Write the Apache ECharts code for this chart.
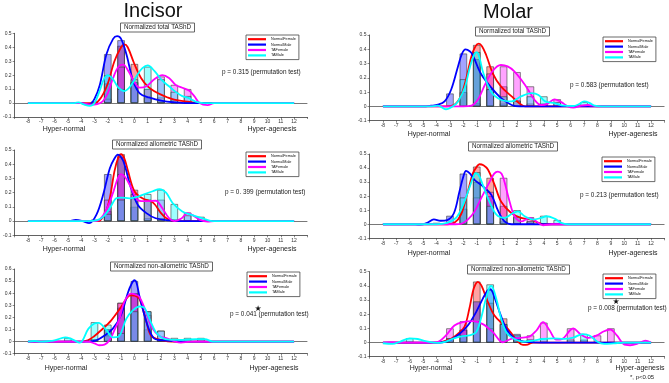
<!DOCTYPE html>
<html><head><meta charset="utf-8">
<script src="https://cdn.jsdelivr.net/npm/echarts@6/dist/echarts.min.js"></script>
<style>html,body{margin:0;padding:0;background:#fff}#c{width:669px;height:383px}</style>
</head><body><div id="c"></div>
<script>
// ---------- data ----------
const groups = ['NormalFemale', 'NormalMale', 'TAFemale', 'TAMale'];
const xTickValues = [-8,-7,-6,-5,-4,-3,-2,-1,0,1,2,3,4,5,6,7,8,9,10,11,12];
const columnTitles = ['Incisor', 'Molar'];
const panelTitles = ['Normalized total TAShD', 'Normalized total TAShD',
  'Normalized allometric TAShD', 'Normalized allometric TAShD',
  'Normalized non-allometric TAShD', 'Normalized non-allometric TAShD'];
const pTexts = ['p = 0.315 (permutation test)', 'p = 0.583 (permutation test)',
  'p = 0. 399 (permutation test)', 'p = 0.213 (permutation test)',
  'p = 0.041 (permutation test)', 'p = 0.008 (permutation test)'];
const yMaxes = [0.5, 0.5, 0.5, 0.5, 0.6, 0.5];

// Panel 1: Incisor, total
const p1BarsNF = [[-2,0.14],[-1,0.41],[0,0.28],[1,0.1],[2,0.04],[3,0.02],[4,0.01]];
const p1BarsNM = [[-3,0.01],[-2,0.35],[-1,0.45],[0,0.15],[1,0.04],[2,0.02],[3,0.01]];
const p1BarsTF = [[-2,0.03],[-1,0.26],[0,0.15],[1,0.1],[2,0.19],[3,0.13],[4,0.1]];
const p1BarsTM = [[-2,0.2],[-1,0.1],[0,0.17],[1,0.26],[2,0.17],[3,0.08],[4,0.05]];
const p1CurveNF = [[-8,0],[-3.5,0],[-3,0],[-2.5,0.04],[-2,0.14],[-1.5,0.3],[-1,0.4],[-0.75,0.42],[-0.5,0.4],[0,0.28],[0.5,0.18],[1,0.12],[1.5,0.085],[2,0.06],[2.5,0.04],[3,0.025],[4,0.01],[5,0],[12,0]];
const p1CurveNM = [[-8,0],[-4,0],[-3.4,-0.01],[-3,0.03],[-2.6,0.13],[-2.1,0.35],[-1.6,0.46],[-1.3,0.48],[-1,0.46],[-0.6,0.35],[-0.1,0.16],[0.4,0.07],[1.1,0.04],[2.1,0.015],[3,0.005],[4,0],[12,0]];
const p1CurveTF = [[-8,0],[-4,0],[-3.3,-0.012],[-2.8,-0.008],[-2.4,0.01],[-2,0.07],[-1.6,0.18],[-1.2,0.26],[-0.85,0.275],[-0.4,0.22],[0,0.15],[0.4,0.11],[0.9,0.12],[1.5,0.17],[2.1,0.2],[2.6,0.18],[3.1,0.13],[3.6,0.11],[4.1,0.09],[4.5,0.05],[4.9,0],[5.5,-0.015],[6,0],[12,0]];
const p1CurveTM = [[-8,0],[-4.5,0],[-4.2,0.005],[-3.8,-0.01],[-3.35,-0.02],[-3,0],[-2.6,0.09],[-2.3,0.17],[-2,0.2],[-1.6,0.17],[-1.2,0.11],[-0.75,0.086],[-0.3,0.12],[0.2,0.2],[0.6,0.25],[1,0.27],[1.5,0.23],[2.1,0.16],[2.6,0.12],[3.1,0.08],[3.6,0.05],[4.1,0.035],[4.6,0.01],[5.2,0],[12,0]];

// Panel 2: Molar, total
const p2BarsNF = [[-2,0.1],[-1,0.43],[0,0.28],[1,0.14],[2,0.04],[3,0.02]];
const p2BarsNM = [[-3,0.09],[-2,0.37],[-1,0.33],[0,0.12],[1,0.02]];
const p2BarsTF = [[-1,0.02],[0,0.23],[1,0.28],[2,0.24],[3,0.14],[4,0.02],[5,0.05],[7,0.01]];
const p2BarsTM = [[-2,0.19],[-1,0.38],[0,0.12],[1,0.07],[2,0.04],[3,0.07],[4,0.07],[5,0.03],[7,0.03]];
const p2CurveNF = [[-8,0],[-3.5,0],[-2.7,0.01],[-2.2,0.07],[-1.8,0.19],[-1.4,0.35],[-1.1,0.42],[-0.85,0.44],[-0.6,0.42],[-0.3,0.36],[0.2,0.23],[0.8,0.14],[1.6,0.07],[2.2,0.02],[2.6,0],[12,0]];
const p2CurveNM = [[-8,0],[-5,0],[-4.4,0.005],[-3.9,0.012],[-3.4,0.035],[-2.9,0.12],[-2.4,0.28],[-2.1,0.37],[-1.84,0.4],[-1.5,0.385],[-1.3,0.36],[-0.7,0.23],[0.1,0.13],[0.8,0.06],[1.6,0.01],[2.2,0],[12,0]];
const p2CurveTF = [[-8,0],[-2,0],[-1.4,0.005],[-0.9,0.05],[-0.4,0.15],[0.2,0.25],[0.8,0.29],[1.3,0.28],[1.8,0.245],[2.6,0.15],[3.3,0.047],[3.8,0.01],[4.3,0.02],[4.8,0.05],[5.3,0.03],[5.8,0],[6.2,-0.008],[6.8,0.005],[7.3,0.01],[8,0],[12,0]];
const p2CurveTM = [[-8,0],[-4.5,0],[-3.9,0.005],[-3.3,-0.02],[-2.8,0],[-2.4,0.035],[-1.9,0.13],[-1.5,0.28],[-1.2,0.36],[-1,0.38],[-0.8,0.34],[-0.5,0.23],[0.1,0.1],[0.8,0.047],[1.6,0.035],[2.3,0.07],[3.1,0.093],[3.6,0.08],[4.1,0.035],[4.8,0.023],[5.5,0.005],[6.2,0.003],[6.6,0.015],[7,0.035],[7.4,0.025],[7.8,0.005],[8.3,0],[12,0]];

// Panel 3: Incisor, allometric
const p3BarsNF = [[-2,0.07],[-1,0.47],[0,0.22],[1,0.15],[2,0.02],[3,0.01]];
const p3BarsNM = [[-3,0.01],[-2,0.33],[-1,0.45],[0,0.1],[1,0.02]];
const p3BarsTF = [[-2,0.15],[-1,0.33],[0,0.19],[1,0.15],[2,0.15],[3,0.01],[4,0.06]];
const p3BarsTM = [[-2,0.05],[-1,0.15],[0,0.16],[1,0.19],[2,0.22],[3,0.12],[4,0.04],[5,0.03]];
const p3CurveNF = [[-8,0],[-3,0],[-2.7,0],[-2.2,0.056],[-1.85,0.16],[-1.5,0.35],[-1.2,0.45],[-1,0.47],[-0.75,0.44],[-0.5,0.36],[0,0.21],[0.6,0.16],[1.4,0.13],[2,0.056],[2.4,0.02],[2.9,0],[12,0]];
const p3CurveNM = [[-8,0],[-5,0],[-4.4,0.008],[-3.9,0],[-3.4,-0.015],[-2.85,0.045],[-2.35,0.185],[-1.85,0.37],[-1.5,0.44],[-1.24,0.467],[-1,0.45],[-0.75,0.4],[-0.25,0.23],[0.25,0.115],[0.9,0.056],[1.6,0.02],[2.6,0.005],[3.5,0],[12,0]];
const p3CurveTF = [[-8,0],[-3,0],[-2.6,0.01],[-2.1,0.08],[-1.6,0.2],[-1.25,0.3],[-1,0.33],[-0.7,0.31],[-0.36,0.256],[0.13,0.16],[0.5,0.14],[0.9,0.14],[1.6,0.143],[2.1,0.09],[2.6,0.02],[3,0],[3.5,0.016],[4,0.056],[4.4,0.04],[4.9,0.01],[5.5,-0.003],[6,0],[12,0]];
const p3CurveTM = [[-8,0],[-3.5,0],[-2.85,0.005],[-2.35,0.03],[-1.85,0.09],[-1.36,0.16],[-1,0.165],[-0.36,0.16],[0.2,0.17],[0.63,0.185],[1.38,0.21],[1.88,0.225],[2.38,0.2],[2.87,0.127],[3.6,0.068],[4.4,0.04],[5.1,0.02],[5.85,0],[12,0]];

// Panel 4: Molar, allometric
const p4BarsNF = [[-2,0.11],[-1,0.41],[0,0.33],[1,0.13],[2,0.05],[3,0.02]];
const p4BarsNM = [[-4,0.01],[-3,0.06],[-2,0.36],[-1,0.3],[0,0.2],[1,0.02]];
const p4BarsTF = [[-1,0.19],[0,0.23],[1,0.33],[2,0.05],[3,0.05]];
const p4BarsTM = [[-2,0.19],[-1,0.37],[0,0.13],[1,0.05],[2,0.1],[3,0.02],[4,0.06],[5,0.03]];
const p4CurveNF = [[-8,0],[-3.2,0],[-2.67,0.01],[-2.17,0.07],[-1.67,0.23],[-1.3,0.36],[-1,0.41],[-0.8,0.427],[-0.5,0.42],[-0.17,0.39],[0.33,0.28],[0.82,0.16],[1.57,0.08],[2.3,0.045],[3.07,0.033],[3.6,0.01],[4,0],[12,0]];
const p4CurveNM = [[-8,0],[-6,0],[-5.2,-0.003],[-4.7,0.01],[-4.2,0.035],[-3.7,0.025],[-3.2,0.03],[-2.7,0.08],[-2.3,0.23],[-2,0.34],[-1.8,0.38],[-1.5,0.36],[-1.17,0.316],[-0.67,0.28],[0.08,0.21],[0.57,0.1],[1.07,0.02],[1.6,0],[12,0]];
const p4CurveTF = [[-8,0],[-2.6,0],[-2.17,0.003],[-1.67,0.033],[-1.17,0.09],[-0.67,0.186],[-0.05,0.3],[0.3,0.36],[0.57,0.375],[0.85,0.36],[1.07,0.3],[1.45,0.16],[1.82,0.057],[2.32,0.02],[2.95,0.045],[3.45,0.02],[3.95,-0.007],[4.6,0],[12,0]];
const p4CurveTM = [[-8,0],[-4,0],[-3.2,0.01],[-2.55,0.045],[-2.05,0.13],[-1.55,0.26],[-1.2,0.35],[-1.05,0.363],[-0.8,0.34],[-0.55,0.28],[-0.05,0.16],[0.45,0.07],[1.07,0.045],[1.7,0.08],[2.07,0.092],[2.57,0.057],[3.2,0.033],[3.8,0.045],[4.2,0.057],[4.8,0.04],[5.3,0.01],[5.8,0],[12,0]];

// Panel 5: Incisor, non-allometric
const p5BarsNF = [[-3,0.02],[-2,0.1],[-1,0.32],[0,0.4],[1,0.1],[2,0.02],[3,0.01]];
const p5BarsNM = [[-2,0.1],[-1,0.28],[0,0.5],[1,0.25],[2,0.02]];
const p5BarsTF = [[-2,0.05],[-1,0.32],[0,0.39],[1,0.22],[2,0.09]];
const p5BarsTM = [[-5,0.03],[-3,0.16],[-2,0.14],[-1,0.07],[0,0.25],[1,0.25],[2,0.09],[3,0.03],[4,0.03],[5,0.03]];
const p5CurveNF = [[-8,0],[-4,0],[-3.5,0.01],[-3,0.047],[-2.5,0.094],[-1.74,0.176],[-1,0.286],[-0.5,0.37],[-0.25,0.383],[0,0.38],[0.37,0.355],[0.87,0.176],[1.24,0.05],[1.74,0.02],[2.5,0.003],[3.2,0],[12,0]];
const p5CurveNM = [[-8,0],[-3.5,0],[-2.86,0.01],[-2.24,0.05],[-1.62,0.107],[-1,0.22],[-0.5,0.4],[-0.2,0.48],[0,0.507],[0.15,0.49],[0.37,0.38],[0.75,0.22],[1.12,0.094],[1.5,0.025],[2,0.012],[3,0.003],[4,0],[12,0]];
const p5CurveTF = [[-8,0],[-3.5,0],[-3,-0.015],[-2.65,-0.03],[-2.25,-0.025],[-1.87,0.011],[-1.5,0.094],[-1.12,0.19],[-0.75,0.33],[-0.25,0.397],[0.05,0.39],[0.37,0.37],[0.87,0.245],[1.37,0.107],[1.87,0.047],[2.5,0.025],[3,0.003],[3.5,-0.008],[4.2,0],[12,0]];
const p5CurveTM = [[-8,0],[-7.5,0.005],[-7,0],[-6.5,0.003],[-6,0.01],[-5.2,0.035],[-4.7,0.02],[-4.1,-0.008],[-3.45,0.107],[-3,0.15],[-2.7,0.155],[-2.1,0.094],[-1.6,0.035],[-1.2,0.04],[-0.6,0.19],[-0.1,0.26],[0.4,0.29],[0.75,0.28],[1.12,0.19],[1.6,0.08],[2.1,0.03],[2.6,0.017],[3.6,0.015],[4.6,0.02],[5.3,0.02],[5.9,0],[12,0]];

// Panel 6: Molar, non-allometric
const p6BarsNF = [[-2,0.09],[-1,0.43],[0,0.28],[1,0.17],[2,0.04]];
const p6BarsNM = [[-3,0.03],[-2,0.09],[-1,0.29],[0,0.37],[1,0.13],[2,0.06],[3,0.02],[7,0.02]];
const p6BarsTF = [[-3,0.1],[-2,0.15],[-1,0.15],[0,0.1],[2,0.02],[3,0.05],[4,0.14],[6,0.1],[8,0.05],[9,0.1]];
const p6BarsTM = [[-6,0.03],[-3,0.03],[-2,0.05],[-1,0.15],[0,0.41],[1,0.13],[2,0.05],[3,0.02],[4,0.03],[6,0.02],[7,0.06]];
const p6CurveNF = [[-8,0],[-4,0],[-3.05,0.02],[-2.42,0.06],[-1.92,0.11],[-1.55,0.24],[-1.3,0.357],[-1.1,0.41],[-0.92,0.428],[-0.7,0.41],[-0.55,0.38],[-0.17,0.286],[0.32,0.19],[0.94,0.13],[1.32,0.097],[1.7,0.05],[2.07,0.007],[2.44,-0.017],[2.8,-0.014],[3.2,0],[12,0]];
const p6CurveNM = [[-8,0],[-4,0],[-3.55,0.002],[-2.92,0.02],[-2.3,0.06],[-1.67,0.12],[-1.05,0.215],[-0.55,0.31],[-0.25,0.36],[-0.05,0.376],[0.1,0.37],[0.32,0.32],[0.7,0.215],[1.2,0.097],[1.7,0.038],[2.2,0.014],[2.94,0.003],[4.2,0],[12,0]];
const p6CurveTF = [[-8,0],[-7.5,0.003],[-6.5,0],[-4.5,0],[-4,0.002],[-3.3,0.05],[-2.67,0.12],[-2.05,0.144],[-1.3,0.151],[-0.55,0.13],[0.2,0.073],[0.94,0.002],[1.57,0.026],[2.2,0.033],[2.95,0.043],[3.45,0.085],[3.94,0.144],[4.44,0.085],[4.94,0.02],[5.39,0.026],[5.94,0.085],[6.2,0.1],[6.7,0.061],[7.33,0.033],[7.95,0.05],[8.45,0.078],[8.95,0.092],[9.45,0.05],[9.94,-0.01],[10.44,-0.019],[11.07,-0.005],[11.57,0.014],[12,0]];
const p6CurveTM = [[-8,-0.005],[-7.3,-0.01],[-6.7,0.007],[-6,0.03],[-5.4,0.025],[-4.8,0.01],[-3.9,-0.002],[-3.3,0.007],[-2.7,0.03],[-2.05,0.045],[-1.55,0.05],[-1.05,0.073],[-0.69,0.168],[-0.32,0.31],[-0.05,0.39],[0.08,0.4],[0.45,0.31],[0.82,0.168],[1.2,0.073],[1.7,0.03],[2.44,0.007],[3.2,0.014],[3.9,0.025],[4.7,0.03],[5.5,0.026],[6.2,0.035],[6.9,0.06],[7.4,0.05],[8,0.005],[8.5,-0.01],[9.2,-0.006],[10,0],[12,0]];

// ---------- styling / layout ----------
const FONT = 'Liberation Sans';
const lineColors = ['#ff0000', '#0000ff', '#ff00ff', '#00ffff'];
const barColors = ['rgba(255,0,0,0.36)', 'rgba(0,0,255,0.36)', 'rgba(255,0,255,0.36)', 'rgba(0,255,255,0.38)'];
const grids = [
  {left: 12.6, top: 33.3, width: 294.8, height: 83.7},
  {left: 369.5, top: 35, width: 295, height: 85.7},
  {left: 12.6, top: 150, width: 294.8, height: 85.3},
  {left: 369.5, top: 154, width: 295, height: 84.3},
  {left: 12.6, top: 269, width: 294.8, height: 84.7},
  {left: 369.5, top: 271.7, width: 295, height: 85}
];
const titlePos = [[120,23],[475,27],[112,140],[468,142],[110,262],[467,265]];
const legendPos = [[246,35],[603,37],[246,152],[602,157],[247,272],[603,274]];
const pPos = [[222,72.7],[570,85.7],[225,192.3],[580,195.3],[230,314.3],[588,308.7]];
const hyperPos = [[64,129,272,129],[429,134.5,633,134.5],[64,249,272,249],[429,252.7,633,253],[66,368.3,274,368],[431,368,640,368]];

const panelBars = [
  [p1BarsNF, p1BarsNM, p1BarsTF, p1BarsTM],
  [p2BarsNF, p2BarsNM, p2BarsTF, p2BarsTM],
  [p3BarsNF, p3BarsNM, p3BarsTF, p3BarsTM],
  [p4BarsNF, p4BarsNM, p4BarsTF, p4BarsTM],
  [p5BarsNF, p5BarsNM, p5BarsTF, p5BarsTM],
  [p6BarsNF, p6BarsNM, p6BarsTF, p6BarsTM]
];
const panelCurves = [
  [p1CurveNF, p1CurveNM, p1CurveTF, p1CurveTM],
  [p2CurveNF, p2CurveNM, p2CurveTF, p2CurveTM],
  [p3CurveNF, p3CurveNM, p3CurveTF, p3CurveTM],
  [p4CurveNF, p4CurveNM, p4CurveTF, p4CurveTM],
  [p5CurveNF, p5CurveNM, p5CurveTF, p5CurveTM],
  [p6CurveNF, p6CurveNM, p6CurveTF, p6CurveTM]
];

const axisColor = '#3a3a3a';
const xAxes = [], yAxes = [], series = [], titles = [], legends = [], graphics = [];
grids.forEach((g, i) => {
  xAxes.push({
    gridIndex: i, type: 'value', min: -9, max: 13, interval: 1,
    axisLine: {show: true, onZero: false, lineStyle: {color: axisColor, width: 0.8}},
    axisTick: {show: true, length: 2, lineStyle: {color: axisColor, width: 0.6}},
    axisLabel: {fontSize: 5, color: '#333', margin: 2.5, fontFamily: FONT,
      formatter: v => xTickValues.indexOf(Math.round(v)) >= 0 ? String(Math.round(v)) : ''},
    splitLine: {show: false}
  });
  yAxes.push({
    gridIndex: i, type: 'value', min: -0.1, max: yMaxes[i], interval: 0.1,
    axisLine: {show: true, onZero: false, lineStyle: {color: axisColor, width: 0.8}},
    axisTick: {show: true, length: 2, lineStyle: {color: axisColor, width: 0.6}},
    axisLabel: {fontSize: 5, color: '#333', margin: 3, fontFamily: FONT,
      formatter: v => String(Math.round(v * 10) / 10)},
    splitLine: {show: false}
  });
  panelBars[i].forEach((d, k) => {
    const s = {
      type: 'bar', name: groups[k] + ' histogram', xAxisIndex: i, yAxisIndex: i, data: d,
      barWidth: 7.4, barGap: '-100%', silent: true, z: 2,
      itemStyle: {color: barColors[k], borderColor: 'rgba(55,55,55,0.9)', borderWidth: 0.65}
    };
    if (k === 0) {
      s.markLine = {silent: true, symbol: 'none', label: {show: false}, z: 1,
        lineStyle: {color: '#555', width: 0.8, type: 'solid'}, data: [{yAxis: 0}]};
    }
    series.push(s);
  });
  panelCurves[i].forEach((d, k) => {
    series.push({
      type: 'line', name: groups[k], xAxisIndex: i, yAxisIndex: i, data: d,
      smooth: 0.35, symbol: 'none', showSymbol: false, z: 3, silent: true,
      lineStyle: {color: lineColors[k], width: 1.8}, itemStyle: {color: lineColors[k]}
    });
  });
  titles.push({
    text: panelTitles[i], left: titlePos[i][0], top: titlePos[i][1],
    padding: [1.5, 4, 1.5, 4], borderColor: '#555', borderWidth: 0.9, backgroundColor: '#fff',
    textStyle: {fontSize: 6.3, fontWeight: 'normal', color: '#222', fontFamily: FONT}
  });
  legends.push({
    data: groups.map((n, k) => ({name: n, itemStyle: {color: lineColors[k]}})),
    orient: 'vertical', left: legendPos[i][0], top: legendPos[i][1],
    icon: 'rect', itemWidth: 18, itemHeight: 2.2, itemGap: 0,
    padding: [1.5, 3, 1.5, 2], borderColor: '#444', borderWidth: 0.8, backgroundColor: '#fff',
    selectedMode: false,
    textStyle: {fontSize: 3.8, lineHeight: 5.4, color: '#111', fontFamily: FONT}
  });
  graphics.push({type: 'text', x: pPos[i][0], y: pPos[i][1],
    style: {text: pTexts[i], fontSize: 6.4, fontFamily: FONT, fill: '#222', align: 'left', verticalAlign: 'middle'}});
  const h = hyperPos[i];
  graphics.push({type: 'text', x: h[0], y: h[1],
    style: {text: 'Hyper-normal', fontSize: 7, fontFamily: FONT, fill: '#222', align: 'center', verticalAlign: 'middle'}});
  graphics.push({type: 'text', x: h[2], y: h[3],
    style: {text: 'Hyper-agenesis', fontSize: 7, fontFamily: FONT, fill: '#222', align: 'center', verticalAlign: 'middle'}});
});
graphics.push({type: 'text', x: 153, y: 11,
  style: {text: columnTitles[0], fontSize: 20, fontFamily: FONT, fill: '#111', align: 'center', verticalAlign: 'middle'}});
graphics.push({type: 'text', x: 508, y: 12,
  style: {text: columnTitles[1], fontSize: 20, fontFamily: FONT, fill: '#111', align: 'center', verticalAlign: 'middle'}});
graphics.push({type: 'text', x: 258, y: 308.5,
  style: {text: '★', fontSize: 8, fontFamily: 'DejaVu Sans', fill: '#111', align: 'center', verticalAlign: 'middle'}});
graphics.push({type: 'text', x: 616, y: 302,
  style: {text: '★', fontSize: 8, fontFamily: 'DejaVu Sans', fill: '#111', align: 'center', verticalAlign: 'middle'}});
graphics.push({type: 'text', x: 630, y: 377,
  style: {text: '*, p<0.05', fontSize: 6, fontFamily: FONT, fill: '#222', align: 'left', verticalAlign: 'middle'}});

const chart = echarts.init(document.getElementById('c'), null, {renderer: 'canvas'});
chart.setOption({
  animation: false,
  backgroundColor: '#fff',
  textStyle: {fontFamily: FONT},
  grid: grids.map(g => Object.assign({containLabel: false}, g)),
  xAxis: xAxes, yAxis: yAxes,
  title: titles, legend: legends,
  graphic: {elements: graphics},
  series: series
});
</script></body></html>
